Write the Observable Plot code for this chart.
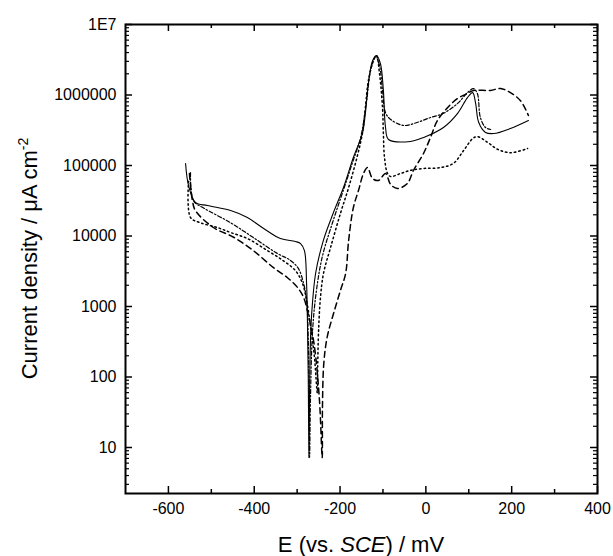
<!DOCTYPE html>
<html><head><meta charset="utf-8">
<script src="https://cdn.jsdelivr.net/npm/d3@7"></script>
<script src="https://cdn.jsdelivr.net/npm/@observablehq/plot@0.6"></script>
<style>body{margin:0;background:#fff;} svg{display:block}</style>
</head><body><div id="chart"></div>
<script>
// Axis ticks and labels
const xMajor = [-600, -400, -200, 0, 200, 400];
const xMinor = [-500, -300, -100, 100, 300];
const yMajor = [10, 100, 1000, 10000, 100000, 1000000, 10000000];
const yLabels = ["10", "100", "1000", "10000", "100000", "1000000", "1E7"];

// Series 1: solid
const solidE = [-560,-553,-537,-509,-455,-416,-378,-339,-304,-292,-283,-278,-276,-274,-272.5,-271,-268.5,-265,-257,-239,-216,-192,-169,-148,-141,-134,-124,-115,-106,-99,-94,-87,-36,-5,41,74,97,109,116,123,139,158,197,239];
const solidI = [107000,52000,30000,27000,23000,18300,12800,9200,8350,7800,6200,2100,630,89,7.2,60,400,980,2940,8600,21000,48700,130000,284000,550000,1460000,3080000,3630000,2800000,1160000,346000,234000,219000,250000,346000,550000,920000,1080000,760000,410000,294000,284000,335000,435000];

// Series 2: dotted
const dotE = [-553,-548.5,-525,-486,-455,-416,-369,-332,-304,-287.5,-278,-269,-260,-253,-252,-250,-245.6,-238.6,-222,-199,-180,-160.6,-148,-141,-134,-122,-115,-108,-101,-99,-96.4,-89.4,-82.4,-59,-36,-5.5,34,64,88,109,120,144,167,197,237];
const dotI = [60000,18300,15400,13200,11200,9200,6200,4450,3230,2130,1220,540,202,60,154,457,1350,2940,6900,21000,48700,130000,284000,660000,1600000,3080000,3600000,2000000,660000,284000,130000,77000,69800,77000,85400,90600,93500,107000,163000,240000,257000,213000,170000,152000,174000];

// Series 3: dash-dot
const dashDotE = [-548.5,-541.5,-518,-455,-402,-346,-315.5,-297,-285,-278,-273.5,-271,-269,-264,-255,-241,-217.6,-194,-171,-152,-138,-129,-117,-108,-101,-94,-82,-52,-19.5,11,41,74,97,111,120,127,139,151];
const dashDotI = [79000,31600,25000,15400,9500,5650,4500,3450,2130,1220,238,7.2,47,457,1690,5200,15400,41500,110000,250000,830000,2200000,3500000,2600000,1160000,560000,450000,370000,410000,480000,550000,760000,1080000,1230000,1050000,480000,346000,324000];

// Series 4: dashed
const dashE = [-551,-544,-537,-495,-448,-402,-355,-322.5,-299,-285,-273.5,-260,-248,-241.6,-241,-237.9,-230,-215,-199,-187,-180,-169,-157,-145.3,-136,-124.4,-110.4,-94,-82,-66,-43,-29,-5.5,10.8,27,50.4,73.7,97,111,150.6,174,197,220.6,239];
const dashI = [77000,31600,22900,13200,9600,6200,3550,2560,1860,1350,740,280,47,7.2,37,155,367,800,1690,2940,8630,25300,44200,77000,93500,65500,61300,77000,53700,47200,55600,85000,148000,250000,436000,660000,890000,1050000,1160000,1160000,1240000,1080000,830000,513000];

const rows = (E, I) => E.map((e, i) => ({E: e, I: I[i]}));

// minor log ticks (2..9 per decade) inside the visible range
const yMinor = [];
for (let k = 0; k < 7; k++) for (let m = 2; m <= 9; m++) {
  const v = m * Math.pow(10, k);
  if (v > 2.3 && v < 1e7) yMinor.push(v);
}
const labelMap = new Map(yMajor.map((d, i) => [d, yLabels[i]]));

const W = 613, H = 556, mL = 125, mR = 16, mT = 24, mB = 63;
const fw = W - mL - mR, fh = H - mT - mB;
const FONT = "Liberation Sans, Arial, Helvetica, sans-serif";
const CURVE = "catmull-rom";

const chart = Plot.plot({
  width: W, height: H,
  marginLeft: mL, marginRight: mR, marginTop: mT, marginBottom: mB,
  style: {fontFamily: FONT, fontSize: "16px", background: "white", color: "black"},
  x: {domain: [-700, 400]},
  y: {type: "log", domain: [2.226, 1e7]},
  marks: [
    Plot.line(rows(solidE, solidI), {x: "E", y: "I", stroke: "black", strokeWidth: 1.1, curve: CURVE}),
    Plot.line(rows(dotE, dotI), {x: "E", y: "I", stroke: "black", strokeWidth: 1.5, strokeDasharray: "1.5,3", curve: CURVE}),
    Plot.line(rows(dashDotE, dashDotI), {x: "E", y: "I", stroke: "black", strokeWidth: 1.2, strokeDasharray: "4,2,1.5,2", curve: CURVE}),
    Plot.line(rows(dashE, dashI), {x: "E", y: "I", stroke: "black", strokeWidth: 1.5, strokeDasharray: "6,4", curve: CURVE}),
    Plot.tickY(yMajor, {y: d => d, insetRight: fw - 7, strokeWidth: 1.5}),
    Plot.tickY(yMinor, {y: d => d, insetRight: fw - 4, strokeWidth: 1.2}),
    Plot.tickY(yMajor, {y: d => d, insetLeft: fw - 7, strokeWidth: 1.5}),
    Plot.tickY(yMinor, {y: d => d, insetLeft: fw - 4, strokeWidth: 1.2}),
    Plot.tickX(xMajor, {x: d => d, insetTop: fh - 7, strokeWidth: 1.5}),
    Plot.tickX(xMinor, {x: d => d, insetTop: fh - 4, strokeWidth: 1.5}),
    Plot.tickX(xMajor, {x: d => d, insetBottom: fh - 7, strokeWidth: 1.5}),
    Plot.tickX(xMinor, {x: d => d, insetBottom: fh - 4, strokeWidth: 1.5}),
    Plot.frame({stroke: "black", strokeWidth: 2}),
    Plot.axisY({ticks: yMajor, tickSize: 0, tickPadding: 9, tickFormat: d => labelMap.get(d), fontSize: 16, label: null}),
    Plot.axisX({ticks: xMajor, tickSize: 0, tickPadding: 9, tickFormat: d => String(d), fontSize: 16, label: null})
  ]
});
document.getElementById("chart").appendChild(chart);

// Axis titles (with italic and superscript parts)
const svg = d3.select(chart);
const xt = svg.append("text")
  .attr("x", mL + fw / 2).attr("y", H - 4)
  .attr("text-anchor", "middle").attr("font-size", 22).attr("font-family", FONT).attr("fill", "black");
xt.append("tspan").text("E (vs. ");
xt.append("tspan").attr("font-style", "italic").text("SCE");
xt.append("tspan").text(") / mV");

const yt = svg.append("text")
  .attr("transform", `translate(37,${mT + fh / 2}) rotate(-90)`)
  .attr("text-anchor", "middle").attr("font-size", 22).attr("font-family", FONT).attr("fill", "black");
yt.append("tspan").text("Current density / \u03bcA cm");
yt.append("tspan").attr("dy", -9).attr("font-size", 14).text("-2");
</script></body></html>
